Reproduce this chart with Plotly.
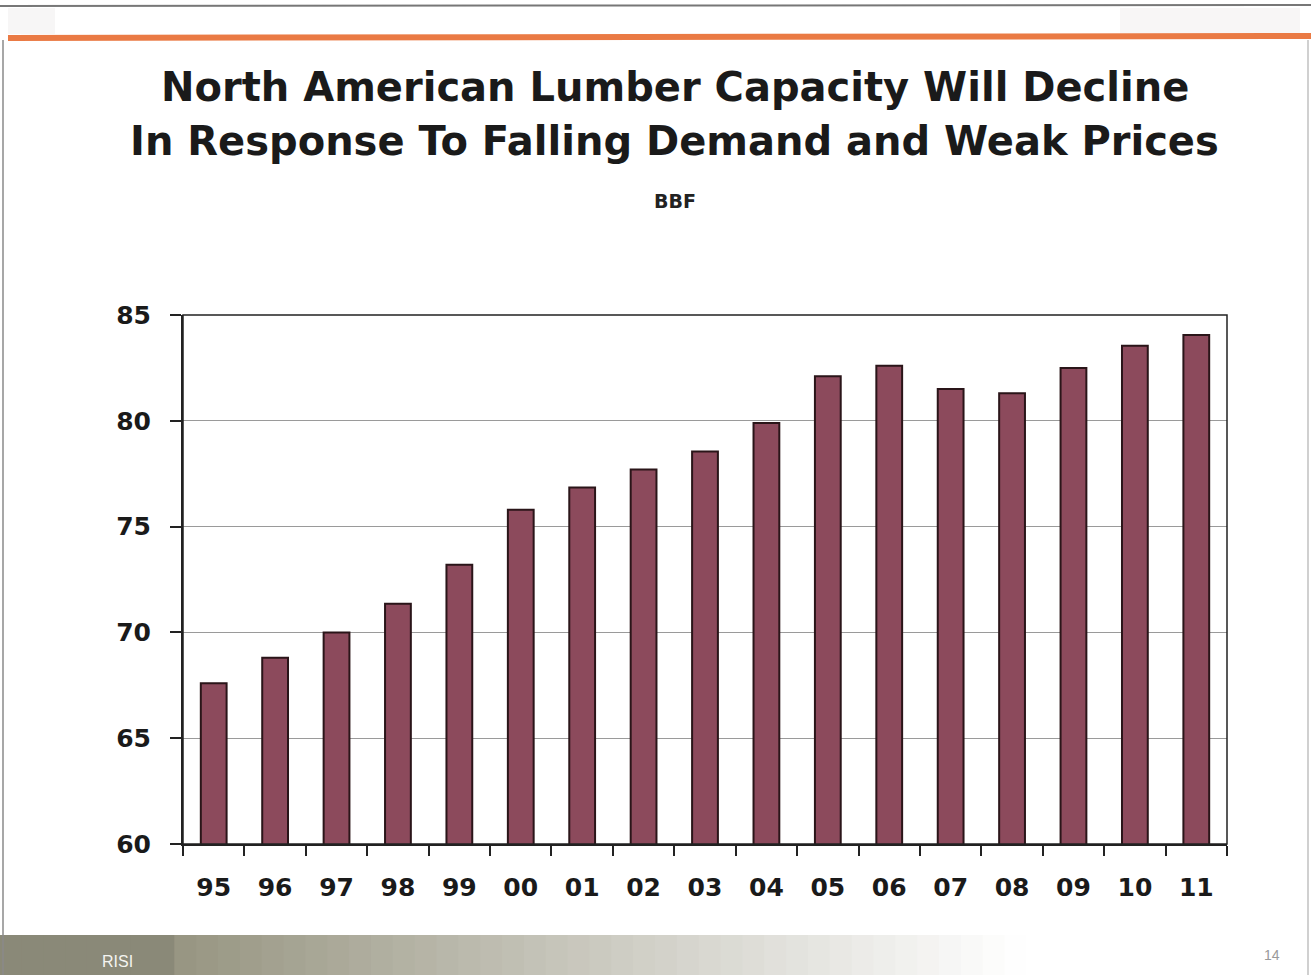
import plotly.graph_objects as go

years = ["95", "96", "97", "98", "99", "00", "01", "02", "03", "04",
         "05", "06", "07", "08", "09", "10", "11"]
capacity = [67.6, 68.8, 70.0, 71.35, 73.2, 75.8, 76.85, 77.7, 78.55, 79.9,
            82.1, 82.6, 81.5, 81.3, 82.5, 83.55, 84.05]
y_ticks = [60, 65, 70, 75, 80, 85]

W, H = 1311, 975
FONT = "DejaVu Sans, Liberation Sans, Arial, sans-serif"

fig = go.Figure()
fig.add_trace(go.Bar(
    x=years, y=capacity,
    marker=dict(color="#8c4a5c", line=dict(color="#2a1519", width=2)),
    width=0.42,
    hoverinfo="x+y",
))

ml, mr, mt, mb = 183, 84, 315, 131
pw, ph = W - ml - mr, H - mt - mb

def px_x(x):
    return (x - ml) / pw

def px_y(y):
    return (H - mb - y) / ph

shapes = []
n = 60
for i in range(n):
    t = i / (n - 1)
    xa = i * W / n
    xb = (i + 1) * W / n
    if t < 0.12:
        c = (138, 137, 120)
    else:
        s = min(1.0, (t - 0.12) / 0.66)
        c = tuple(int(a + (255 - a) * s) for a in (150, 148, 128))
    shapes.append(dict(type="rect", xref="paper", yref="paper",
                       x0=px_x(xa - 0.5), x1=px_x(xb + 0.5),
                       y0=px_y(975), y1=px_y(935),
                       line=dict(width=0), fillcolor="rgb(%d,%d,%d)" % c, layer="below"))
# top strip faint decorations
shapes.append(dict(type="rect", xref="paper", yref="paper",
                   x0=px_x(8), x1=px_x(55), y0=px_y(34), y1=px_y(8),
                   line=dict(width=0), fillcolor="rgba(210,205,205,0.18)", layer="below"))
shapes.append(dict(type="rect", xref="paper", yref="paper",
                   x0=px_x(1120), x1=px_x(1300), y0=px_y(34), y1=px_y(8),
                   line=dict(width=0), fillcolor="rgba(215,205,205,0.18)", layer="below"))
# top thin dark line
shapes.append(dict(type="line", xref="paper", yref="paper",
                   x0=px_x(0), x1=px_x(1311), y0=px_y(6), y1=px_y(5),
                   line=dict(color="#777777", width=2), layer="below"))
# orange line
shapes.append(dict(type="line", xref="paper", yref="paper",
                   x0=px_x(8), x1=px_x(1311), y0=px_y(38), y1=px_y(36),
                   line=dict(color="#ea7a44", width=6), layer="below"))
# left & right slide borders
shapes.append(dict(type="line", xref="paper", yref="paper",
                   x0=px_x(3), x1=px_x(3), y0=px_y(40), y1=px_y(975),
                   line=dict(color="#8a8a8a", width=1.5), layer="below"))
shapes.append(dict(type="line", xref="paper", yref="paper",
                   x0=px_x(1308), x1=px_x(1308), y0=px_y(40), y1=px_y(975),
                   line=dict(color="#c0c0c0", width=1.5), layer="below"))
# plot frame (top & right)
shapes.append(dict(type="rect", xref="paper", yref="paper",
                   x0=0, x1=1, y0=0, y1=1,
                   line=dict(color="#222222", width=1.5), layer="above"))

annotations = [
    dict(text="<b>North American Lumber Capacity Will Decline</b>", x=px_x(675), y=px_y(87),
         xref="paper", yref="paper", showarrow=False, xanchor="center", yanchor="middle",
         font=dict(family=FONT, size=40, color="#1a1a1a")),
    dict(text="<b>In Response To Falling Demand and Weak Prices</b>", x=px_x(674), y=px_y(141),
         xref="paper", yref="paper", showarrow=False, xanchor="center", yanchor="middle",
         font=dict(family=FONT, size=40, color="#1a1a1a")),
    dict(text="<b>BBF</b>", x=px_x(675), y=px_y(201),
         xref="paper", yref="paper", showarrow=False, xanchor="center", yanchor="middle",
         font=dict(family=FONT, size=19, color="#222222")),
    dict(text="RISI", x=px_x(100), y=px_y(961),
         xref="paper", yref="paper", showarrow=False, xanchor="left", yanchor="middle",
         font=dict(family="Liberation Sans Narrow, Liberation Sans, sans-serif", size=16, color="#f4f4f0")),
    dict(text="14", x=px_x(1282), y=px_y(955),
         xref="paper", yref="paper", showarrow=False, xanchor="right", yanchor="middle",
         font=dict(family="Liberation Sans, sans-serif", size=14, color="#999999")),
]

fig.update_layout(
    width=W, height=H,
    margin=dict(l=ml, r=mr, t=mt, b=mb, pad=0),
    paper_bgcolor="white", plot_bgcolor="white",
    showlegend=False,
    shapes=shapes,
    annotations=annotations,
    font=dict(family=FONT, color="#1a1a1a"),
)
fig.update_xaxes(
    type="category", tickson="boundaries",
    ticks="outside", ticklen=10, tickwidth=2, tickcolor="#222222",
    showline=True, linecolor="#222222", linewidth=2,
    showgrid=False,
    tickfont=dict(family=FONT, size=25, color="#1a1a1a", weight="bold"),
    ticklabelstandoff=20,
    range=[-0.5, len(years) - 0.5],
)
fig.update_yaxes(
    range=[60, 85], tickvals=y_ticks,
    ticks="outside", ticklen=11, tickwidth=2, tickcolor="#222222",
    showline=True, linecolor="#222222", linewidth=2,
    showgrid=True, gridcolor="#9a9a9a", gridwidth=1.2,
    zeroline=False,
    tickfont=dict(family=FONT, size=25, color="#1a1a1a", weight="bold"),
    ticklabelstandoff=14,
)

fig.write_html("out.html")
